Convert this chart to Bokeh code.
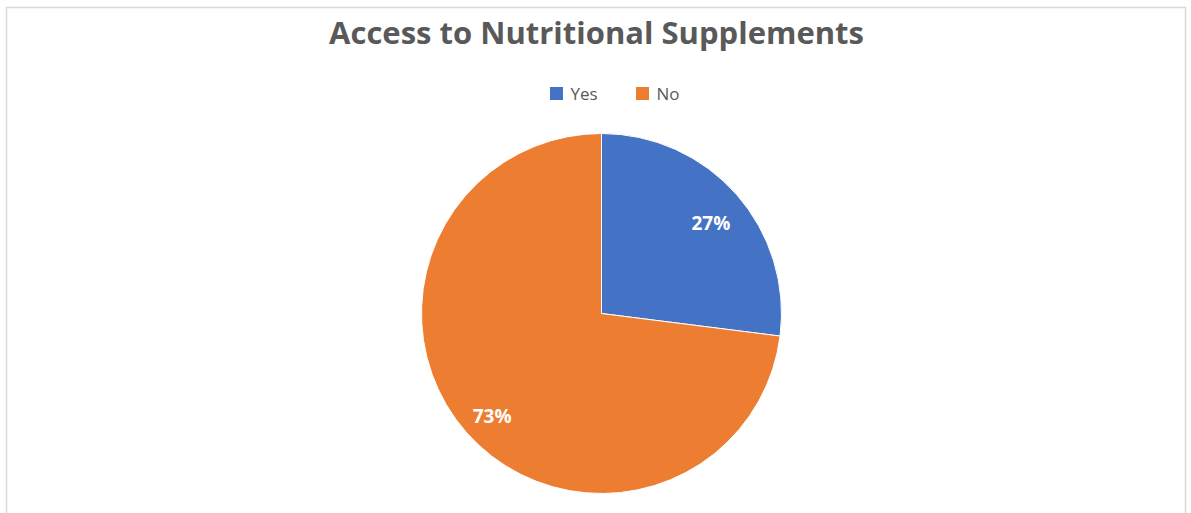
import numpy as np
from bokeh.plotting import figure
from bokeh.models import ColumnDataSource, Range1d
from bokeh.core.properties import value
from bokeh.embed import file_html
from bokeh.resources import INLINE

title = "Access to Nutritional Supplements"
categories = ["Yes", "No"]
values = [27, 73]
colors = ["#4472C4", "#ED7D31"]

W, H = 1191, 513
cx, cy, R = 601, H - 313, 180

vals = np.array(values, dtype=float)
frac = vals / vals.sum()
ends = np.cumsum(frac)
starts = ends - frac
# clockwise from 12 o'clock
start_ang = np.pi / 2 - starts * 2 * np.pi
end_ang = np.pi / 2 - ends * 2 * np.pi
mid = (start_ang + end_ang) / 2
lr = 0.81 * R
src = ColumnDataSource(dict(
    cat=categories, start=start_ang, end=end_ang, color=colors,
    lx=cx + lr * np.cos(mid), ly=cy + lr * np.sin(mid),
    lbl=[f"{round(f*100)}%" for f in frac],
))

p = figure(width=W, height=H, x_range=Range1d(0, W), y_range=Range1d(0, H),
           output_backend="svg", toolbar_location=None, min_border=0)
p.axis.visible = False
p.grid.visible = False
p.outline_line_color = None
p.background_fill_color = "white"
p.border_fill_color = "white"

# chart border
p.quad(left=[6], right=[1185], bottom=[-20], top=[H - 7], fill_color=None,
       line_color="#d9d9d9", line_width=1.5)

p.wedge(x=cx, y=cy, radius=R, start_angle="start", end_angle="end",
        direction="clock", fill_color="color", line_color="white",
        line_width=1, source=src)

p.text(x="lx", y="ly", text="lbl", source=src, text_align="center",
       text_baseline="middle", text_color="white", text_font=value("Open Sans"),
       text_font_style="bold", text_font_size="19px", y_offset=6)

p.text(x=[596], y=[H - 31], text=[title], text_align="center",
       text_baseline="middle", text_color="#595959", text_font=value("Open Sans"),
       text_font_style="bold", text_font_size="31px")

# legend (manual, horizontal)
leg_x = np.array([556, 642])
leg = ColumnDataSource(dict(x=leg_x, tx=leg_x + 14, y=[H - 93] * 2,
                            cat=categories, color=colors))
p.rect(x="x", y="y", width=13, height=13, width_units="screen",
       height_units="screen", fill_color="color", line_color=None, source=leg)
p.text(x="tx", y="y", text="cat", source=leg, text_align="left",
       text_baseline="middle", text_color="#595959", text_font=value("Open Sans"),
       text_font_size="17px")

open("out.html", "w").write(file_html(p, INLINE))
